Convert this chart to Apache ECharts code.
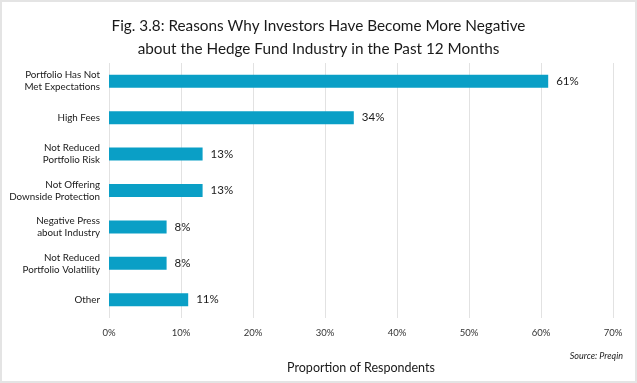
<!DOCTYPE html>
<html><head><meta charset="utf-8">
<script src="https://cdn.jsdelivr.net/npm/echarts@6/dist/echarts.min.js"></script>
<style>html,body{margin:0;padding:0;background:#fff}#c{width:637px;height:383px;box-sizing:border-box;border:2px solid #e4e4e4}</style>
</head><body><div id="c"></div>
<script>
var categories = ["Portfolio Has Not\nMet Expectations","High Fees","Not Reduced\nPortfolio Risk","Not Offering\nDownside Protection","Negative Press\nabout Industry","Not Reduced\nPortfolio Volatility","Other"];
var values = [61, 34, 13, 13, 8, 8, 11];
var xTicks = [0, 10, 20, 30, 40, 50, 60, 70];
var titleText = "Fig. 3.8: Reasons Why Investors Have Become More Negative\nabout the Hedge Fund Industry in the Past 12 Months";
var font = "Lato, 'Open Sans', sans-serif";
var chart = echarts.init(document.getElementById('c'));
chart.setOption({
  animation:false,
  title:{text:titleText,left:'center',top:8,textStyle:{fontFamily:font,fontWeight:'normal',fontSize:15.3,color:'#1a1a1a',lineHeight:23}},
  grid:{left:107,right:22,top:61,bottom:63},
  xAxis:{type:'value',min:xTicks[0],max:xTicks[xTicks.length-1],interval:10,
    axisLabel:{formatter:'{value}%',fontFamily:font,fontSize:9.5,color:'#333',margin:10},
    splitLine:{show:true,lineStyle:{color:'#e2e2e2'}},axisLine:{show:false},
    axisTick:{show:false},
    name:'Proportion of Respondents',nameLocation:'middle',nameGap:43,
    nameTextStyle:{fontFamily:font,fontSize:12.5,color:'#1a1a1a'}},
  yAxis:{type:'category',data:categories,inverse:true,
    axisLine:{show:false},axisTick:{show:false},
    axisLabel:{fontFamily:font,fontSize:9.8,color:'#1a1a1a',margin:9,lineHeight:12,align:'right'}},
  series:[{type:'bar',data:values,barWidth:13,itemStyle:{color:'#0a9fc6'},
    label:{show:true,position:'right',distance:8,formatter:'{c}%',fontFamily:font,fontSize:11.5,color:'#1a1a1a'}}],
  graphic:[{type:'text',right:12,top:350,style:{text:'Source: Preqin',font:"italic 9px Lato, sans-serif",fill:'#1a1a1a'}}]
});
</script></body></html>
